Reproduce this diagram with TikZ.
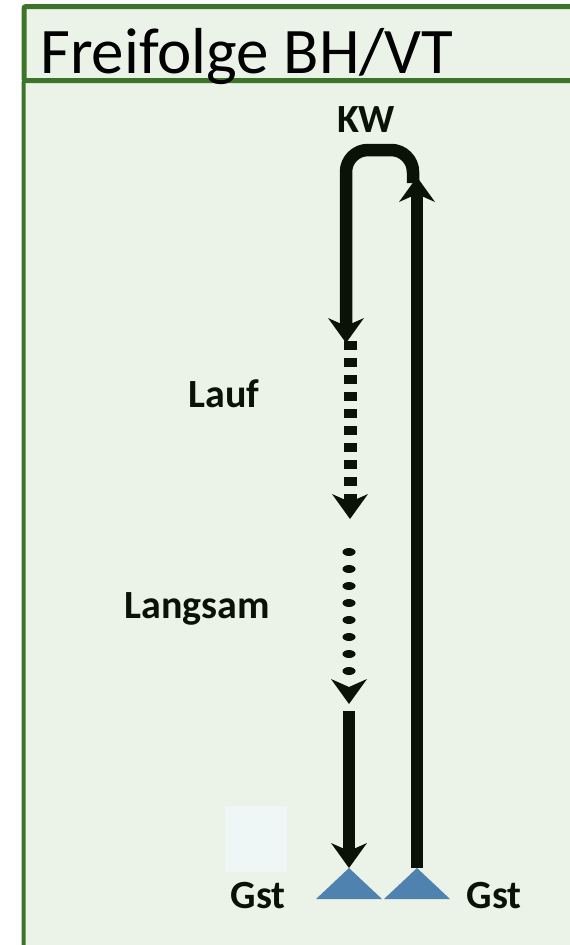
\documentclass[tikz,border=0pt]{standalone}
\usepackage{fontspec}
\setmainfont{Carlito}
\usetikzlibrary{arrows.meta,decorations.markings}

\definecolor{frameGreen}{RGB}{62,116,42}
\definecolor{panelFill}{RGB}{235,243,233}
\definecolor{trackBlack}{RGB}{10,18,8}
\definecolor{gstBlue}{RGB}{80,130,176}
\definecolor{paleBox}{RGB}{239,247,246}

\tikzset{
  panel/.style={draw=frameGreen, fill=panelFill, rounded corners=2pt},
  track/.style={line width=12.5pt, draw=trackBlack},
  head/.tip={Stealth[length=25pt, width=36pt, inset=8pt, line width=0pt]},
  lbl/.style={inner sep=0pt, anchor=base, text=trackBlack,
    font=\fontsize{40}{42}\selectfont\bfseries},
  gst/.style={fill=gstBlue},
}

\begin{document}
\begin{tikzpicture}[x=1pt, y=-1pt]
\useasboundingbox (0,0) rectangle (570,945);
\clip (0,0) rectangle (570,945);
\fill[white] (0,0) rectangle (570,945);

% body panel and title bar
\draw[panel, line width=4pt] (23.5,80.5) rectangle (640,1000);
\draw[panel, line width=5pt] (24,6.5) rectangle (640,80.5);
\node[inner sep=0pt, anchor=base west, font=\fontsize{65}{68}\selectfont]
  (title) at (40,73) {Freifolge BH/VT};

% named points of the track
\coordinate (kwTop)  at (380,150);
\coordinate (loopR)  at (413,183);
\coordinate (tipA)   at (346,343);
\coordinate (dashA)  at (350,341);
\coordinate (dashB)  at (350,519);
\coordinate (dotA)   at (349,552);
\coordinate (dotB)   at (349,704);
\coordinate (lowA)   at (349,711);
\coordinate (apexL)  at (349,868);
\coordinate (apexR)  at (417,868);
\coordinate (upTip)  at (417,177);

% loop over the top and down to the first arrow
\draw[track, rounded corners=22pt, -{head}]
  (loopR) -- (loopR |- kwTop) -- (tipA |- kwTop) -- (tipA);

% square-dashed run
\draw[track, line width=13pt, dash pattern=on 8.5pt off 8.5pt, -{head}]
  (dashA) -- (dashB);

% dotted run: only the tip is stroked, the dots are placed as marks
\draw[track, line width=13pt, dash pattern=on 0pt off 400pt, -{head},
  postaction={decorate},
  decoration={markings,
    mark=between positions 0 and 120pt step 17pt with
      {\fill[trackBlack] (0,0) ellipse (4pt and 6.5pt);}}]
  (dotA) -- (dotB);

% final solid run into the left triangle
\draw[track, -{head}] (lowA) -- (apexL);

% return track up to the loop
\draw[track, -{head}] (apexR) -- (upTip);

% pale square beside the left label
\node[fill=paleBox, minimum width=62pt, minimum height=66pt, inner sep=0pt]
  (pale) at (256,839) {};

% the two triangles
\fill[gst] (316,899) -- (apexL) -- (382,899) -- cycle;
\fill[gst] (384,899) -- (apexR) -- (450,899) -- cycle;

% labels
\node[lbl] (kw)      at (366,132) {KW};
\node[lbl] (lauf)    at (224,407) {Lauf};
\node[lbl] (langsam) at (197,618) {Langsam};
\node[lbl] (gstL)    at (258,908) {Gst};
\node[lbl] (gstR)    at (494,908) {Gst};
\end{tikzpicture}
\end{document}
